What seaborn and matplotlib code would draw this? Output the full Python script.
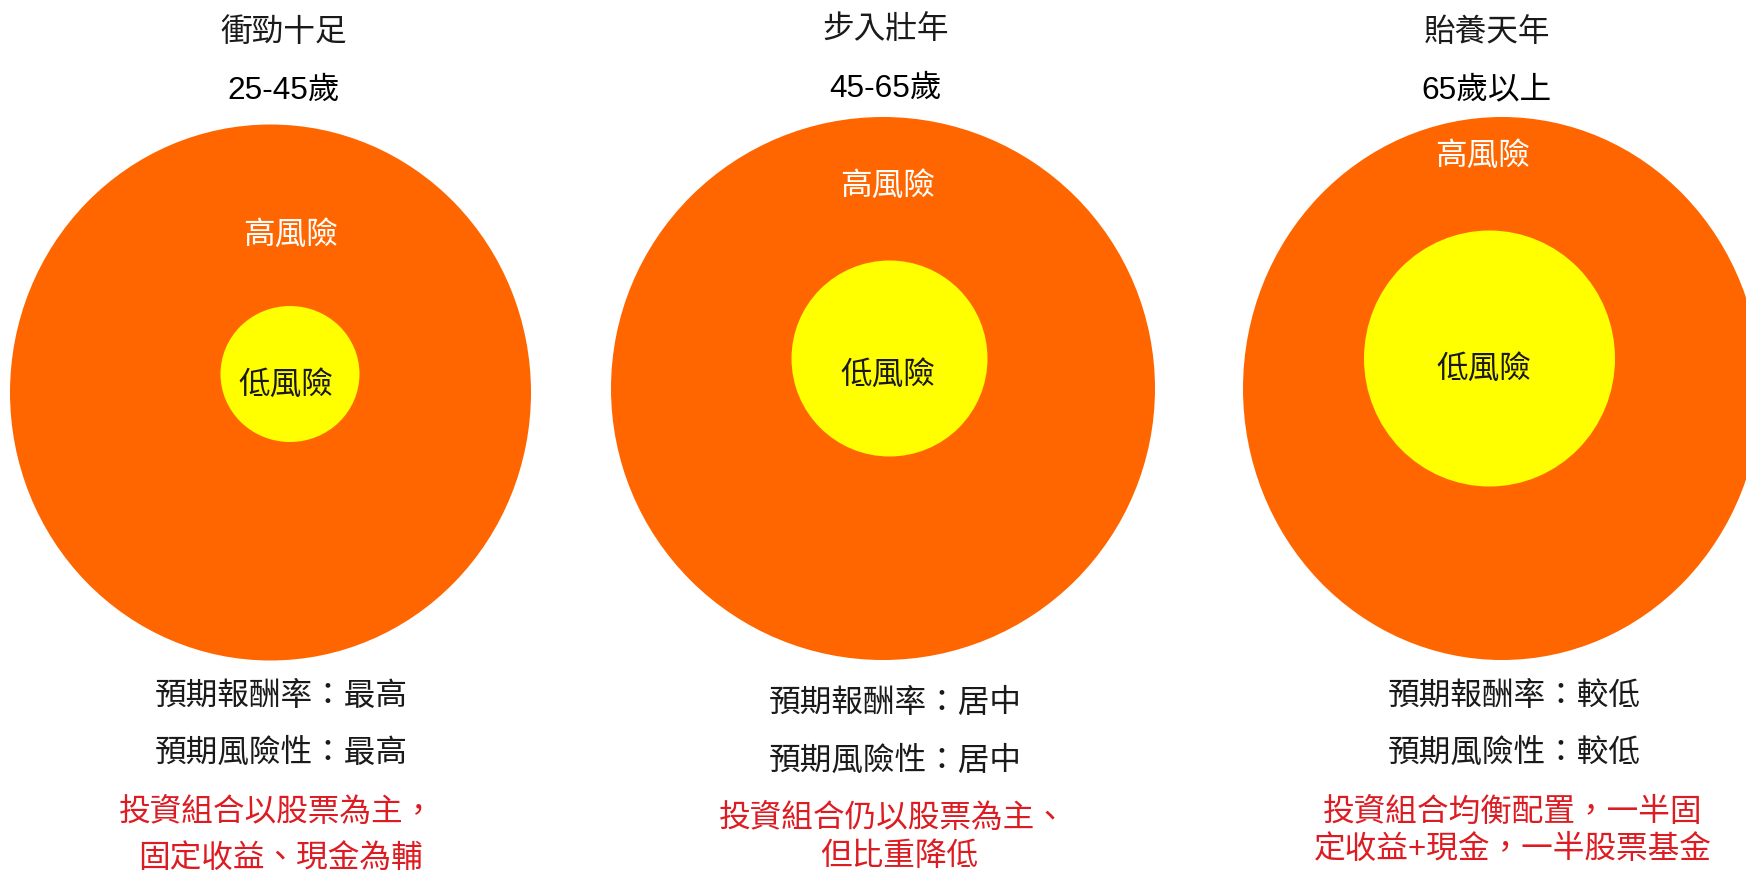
import matplotlib
matplotlib.use("Agg")
import matplotlib.pyplot as plt
from matplotlib.patches import Ellipse
import seaborn as sns
import pandas as pd

# ---- data -------------------------------------------------------------
stage_names = ["衝勁十足", "步入壯年", "貽養天年"]
age_ranges = ["25-45歲", "45-65歲", "65歲以上"]
high_risk_label = "高風險"
low_risk_label = "低風險"
expected_return = ["最高", "居中", "較低"]
expected_risk = ["最高", "居中", "較低"]
portfolio_notes = [
    ["投資組合以股票為主，", "固定收益、現金為輔"],
    ["投資組合仍以股票為主、", "但比重降低"],
    ["投資組合均衡配置，一半固", "定收益+現金，一半股票基金"],
]
# outer (high risk) and inner (low risk) circle half-widths / half-heights
outer_rx = [260.5, 272.0, 259.0]
outer_ry = [268.0, 271.5, 271.5]
inner_rx = [69.5, 98.0, 125.5]
inner_ry = [68.0, 98.0, 128.0]

df = pd.DataFrame({
    "stage": stage_names, "age": age_ranges,
    "ret": expected_return, "risk": expected_risk,
    "outer_rx": outer_rx, "outer_ry": outer_ry,
    "inner_rx": inner_rx, "inner_ry": inner_ry,
})

# ---- layout -------------------------------------------------------------
outer_cx = [270.5, 883.0, 1502.0]
outer_cy = [392.5, 388.5, 388.5]
inner_cx = [290.0, 889.5, 1489.5]
inner_cy = [374.0, 358.5, 358.5]
title_x = [284.0, 885.5, 1486.5]
title_y = [33.0, 31.0, 33.0]
age_y = [90.5, 88.5, 90.5]
high_xy = [(291.0, 236.0), (887.5, 187.0), (1483.0, 157.0)]
low_xy = [(285.5, 385.5), (887.5, 375.5), (1484.0, 369.5)]
info_x = [281.5, 895.0, 1514.0]
info_y1 = [697.0, 703.5, 697.0]
info_y2 = [754.0, 761.5, 754.0]
note_xy = [
    [(277.0, 812.5), (280.0, 858.5)],
    [(892.5, 818.5), (899.0, 857.5)],
    [(1512.5, 812.5), (1512.5, 850.0)],
]

ORANGE = "#FF6600"
YELLOW = "#FFFF00"
RED = "#DC1C22"
INK = "#1a1a1a"
FS = 22.8

sns.set_theme(style="white")
plt.rcParams["font.family"] = ["Liberation Sans", "Noto Sans CJK TC", "DejaVu Sans"]

fig = plt.figure(figsize=(17.46, 8.75), dpi=100)
ax = fig.add_axes([0, 0, 1, 1])
ax.set_xlim(0, 1746)
ax.set_ylim(875, 0)
ax.set_axis_off()

for i, row in df.iterrows():
    ax.add_patch(Ellipse((outer_cx[i], outer_cy[i]), 2 * row.outer_rx, 2 * row.outer_ry,
                         facecolor=ORANGE, edgecolor="none", zorder=1))
    ax.add_patch(Ellipse((inner_cx[i], inner_cy[i]), 2 * row.inner_rx, 2 * row.inner_ry,
                         facecolor=YELLOW, edgecolor="none", zorder=2))

    ax.text(title_x[i], title_y[i], row.stage, ha="center", va="center",
            fontsize=FS, color=INK)
    ax.text(title_x[i], age_y[i], row.age, ha="center", va="center",
            fontsize=FS, color="black")

    ax.text(*high_xy[i], high_risk_label, ha="center", va="center",
            fontsize=FS, color="white", zorder=3)
    ax.text(*low_xy[i], low_risk_label, ha="center", va="center",
            fontsize=FS, color=INK, zorder=3)

    ax.text(info_x[i], info_y1[i], f"預期報酬率：{row.ret}", ha="center", va="center",
            fontsize=FS, color=INK)
    ax.text(info_x[i], info_y2[i], f"預期風險性：{row.risk}", ha="center", va="center",
            fontsize=FS, color=INK)

    for (nx, ny), line in zip(note_xy[i], portfolio_notes[i]):
        ax.text(nx, ny, line, ha="center", va="center", fontsize=FS, color=RED)

fig.savefig("out.png", dpi=100, facecolor="white")
